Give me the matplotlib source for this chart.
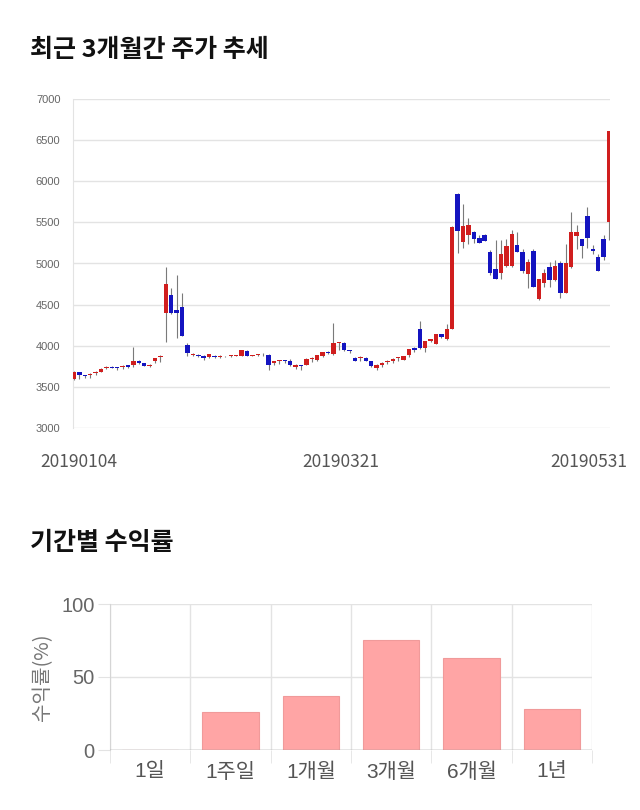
import matplotlib
matplotlib.use('Agg')
import matplotlib.pyplot as plt
import matplotlib.transforms as mtransforms
import numpy as np

plt.rcParams['font.family'] = ['Noto Sans CJK KR', 'DejaVu Sans']
MIX = ['Liberation Sans', 'Noto Sans CJK KR']

# 최근 3개월 일봉 (시가, 고가, 저가, 종가)
opens = [3590, 3680, 3640, 3640, 3665, 3680, 3735, 3745, 3730, 3745,
         3760, 3760, 3815, 3785, 3752, 3810, 3865, 4400, 4620, 4430,
         4470, 4010, 3885, 3885, 3880, 3860, 3873, 3862, 3870, 3875,
         3880, 3873, 3942, 3880, 3885, 3895, 3893, 3792, 3812, 3815,
         3812, 3743, 3763, 3771, 3838, 3832, 3873, 3926, 3900, 4032,
         4036, 3935, 3853, 3850, 3853, 3812, 3731, 3771, 3800, 3812,
         3850, 3832, 3893, 3970, 4198, 3975, 4056, 4023, 4137, 4076,
         4206, 5843, 5262, 5347, 5384, 5307, 5347, 5144, 4929, 4880,
         4970, 4970, 5225, 5144, 4876, 5152, 4572, 4767, 4962, 4795,
         5010, 4645, 4962, 5339, 5294, 5579, 5173, 5083, 5294, 5509]
highs = [3690, 3685, 3650, 3670, 3690, 3725, 3750, 3750, 3740, 3760,
         3765, 3980, 3825, 3790, 3775, 3850, 3885, 4960, 4700, 4860,
         4640, 4030, 3910, 3895, 3885, 3905, 3890, 3885, 3880, 3885,
         3890, 3950, 3945, 3890, 3895, 3910, 3900, 3815, 3830, 3825,
         3840, 3775, 3770, 3850, 3860, 3890, 3930, 3935, 4280, 4050,
         4045, 3945, 3860, 3870, 3860, 3820, 3775, 3800, 3830, 3845,
         3865, 3875, 3965, 3980, 4300, 4060, 4080, 4140, 4140, 4267,
         5460, 5863, 5721, 5558, 5390, 5347, 5355, 5170, 5290, 5282,
         5294, 5404, 5388, 5180, 5060, 5180, 4815, 4929, 5020, 5043,
         5030, 5234, 5627, 5465, 5300, 5692, 5220, 5120, 5347, 6606]
lows = [3580, 3600, 3610, 3610, 3650, 3675, 3720, 3730, 3700, 3720,
        3730, 3740, 3780, 3750, 3745, 3790, 3800, 4050, 4390, 4100,
        4120, 3870, 3870, 3860, 3830, 3850, 3850, 3845, 3860, 3865,
        3870, 3870, 3875, 3870, 3875, 3880, 3700, 3760, 3780, 3790,
        3750, 3720, 3710, 3765, 3800, 3820, 3860, 3900, 3890, 3950,
        3940, 3910, 3810, 3810, 3810, 3745, 3710, 3740, 3780, 3790,
        3820, 3825, 3860, 3930, 3960, 3930, 4040, 4020, 4100, 4070,
        4200, 5132, 5193, 5242, 5250, 5250, 5270, 4860, 4807, 4815,
        4957, 4960, 5140, 4880, 4698, 4710, 4560, 4720, 4720, 4790,
        4584, 4640, 4950, 5180, 5071, 5190, 5120, 4909, 5040, 5286]
closes = [3680, 3645, 3635, 3660, 3670, 3720, 3740, 3735, 3728, 3750,
          3745, 3815, 3785, 3755, 3770, 3850, 3870, 4750, 4400, 4400,
          4120, 3915, 3900, 3875, 3845, 3900, 3862, 3877, 3873, 3877,
          3881, 3946, 3877, 3881, 3885, 3900, 3760, 3812, 3824, 3812,
          3767, 3771, 3751, 3840, 3842, 3885, 3922, 3910, 4036, 4036,
          3946, 3934, 3812, 3853, 3812, 3759, 3771, 3792, 3820, 3840,
          3853, 3873, 3962, 3946, 3975, 4056, 4076, 4137, 4105, 4198,
          5449, 5396, 5457, 5465, 5302, 5254, 5274, 4888, 4807, 5120,
          5213, 5355, 5140, 4909, 5014, 4718, 4815, 4888, 4795, 4970,
          4645, 5002, 5380, 5380, 5213, 5315, 5152, 4909, 5083, 6606]
date_labels = ['20190104', '20190321', '20190531']
date_index = [0, 50, 99]

# 기간별 수익률
periods = ['1일', '1주일', '1개월', '3개월', '6개월', '1년']
returns = [0, 26.3, 37.2, 75.6, 63.2, 27.9]

RED = '#d01e1e'
BLUE = '#1414c0'
GRID = '#e3e3e3'

fig = plt.figure(figsize=(6.4, 8.1), dpi=100)

fig.text(30 / 640, 1 - 50 / 810, '최근 3개월간 주가 추세', fontsize=18,
         fontweight='bold', ha='left', va='center', color='#111')
fig.text(30 / 640, 1 - 543 / 810, '기간별 수익률', fontsize=18,
         fontweight='bold', ha='left', va='center', color='#111')

# ---- 캔들 차트 ----
ax = fig.add_axes([73 / 640, 1 - 428 / 810, 537 / 640, 329 / 810])
o = np.array(opens, float)
h = np.array(highs, float)
l = np.array(lows, float)
c = np.array(closes, float)
x = np.arange(len(o))
colors = [RED if cc >= oo else BLUE for oo, cc in zip(o, c)]
ax.vlines(x, l, h, color='#7a7a7a', lw=0.8, zorder=2)
bottom = np.minimum(o, c)
height = np.maximum(np.abs(c - o), 10)
ax.bar(x, height, bottom=bottom, width=0.82, color=colors, zorder=3)

ax.set_xlim(-0.185, 99.185)
ax.set_ylim(3000, 7000)
ax.set_yticks(range(3000, 7001, 500))
ax.grid(axis='y', color=GRID, lw=1)
ax.set_axisbelow(True)
for s in ['top', 'right', 'bottom']:
    ax.spines[s].set_visible(False)
ax.spines['left'].set_color(GRID)
ax.tick_params(axis='y', length=0, pad=9, labelsize=8, labelcolor='#666')
for lab in ax.get_yticklabels():
    lab.set_family(MIX)
ax.tick_params(axis='x', length=0, pad=18, labelsize=12.5, labelcolor='#555')
ax.set_xticks(date_index)
ax.set_xticklabels(date_labels)
shifts = [5, -3, -20]
for lab, dx in zip(ax.get_xticklabels(), shifts):
    lab.set_transform(lab.get_transform() +
                      mtransforms.ScaledTranslation(dx / 100, 0, fig.dpi_scale_trans))

# ---- 수익률 막대 ----
bx = fig.add_axes([110 / 640, 1 - 750 / 810, 482 / 640, 146 / 810])
pos = np.arange(len(periods))
bx.bar(pos, returns, width=0.7, color='#ffa5a5', edgecolor='#f09a9a', lw=0.8, zorder=3)
bx.set_xlim(-0.5, len(periods) - 0.5)
bx.set_ylim(0, 100)
bx.set_yticks([0, 50, 100])
bx.set_xticks(pos)
bx.set_xticklabels(periods)
bx.set_xticks(np.arange(-0.5, len(periods)), minor=True)
bx.grid(axis='y', color=GRID, lw=1)
bx.grid(axis='x', which='minor', color=GRID, lw=1)
bx.set_axisbelow(True)
bx.axhline(0, color='#999', lw=1, zorder=4)
for s in ['top', 'right', 'bottom']:
    bx.spines[s].set_visible(False)
bx.spines['left'].set_color('#d5d5d5')
bx.tick_params(axis='y', length=9, color=GRID, pad=2, labelsize=14.5, labelcolor='#666')
bx.tick_params(axis='x', which='major', length=0, pad=9, labelsize=15, labelcolor='#555')
bx.tick_params(axis='x', which='minor', length=9, color=GRID)
for lab in bx.get_yticklabels() + bx.get_xticklabels():
    lab.set_family(MIX)
bx.set_ylabel('수익률(%)', fontsize=14.5, color='#777', labelpad=6)

fig.savefig('out.png', dpi=100)
